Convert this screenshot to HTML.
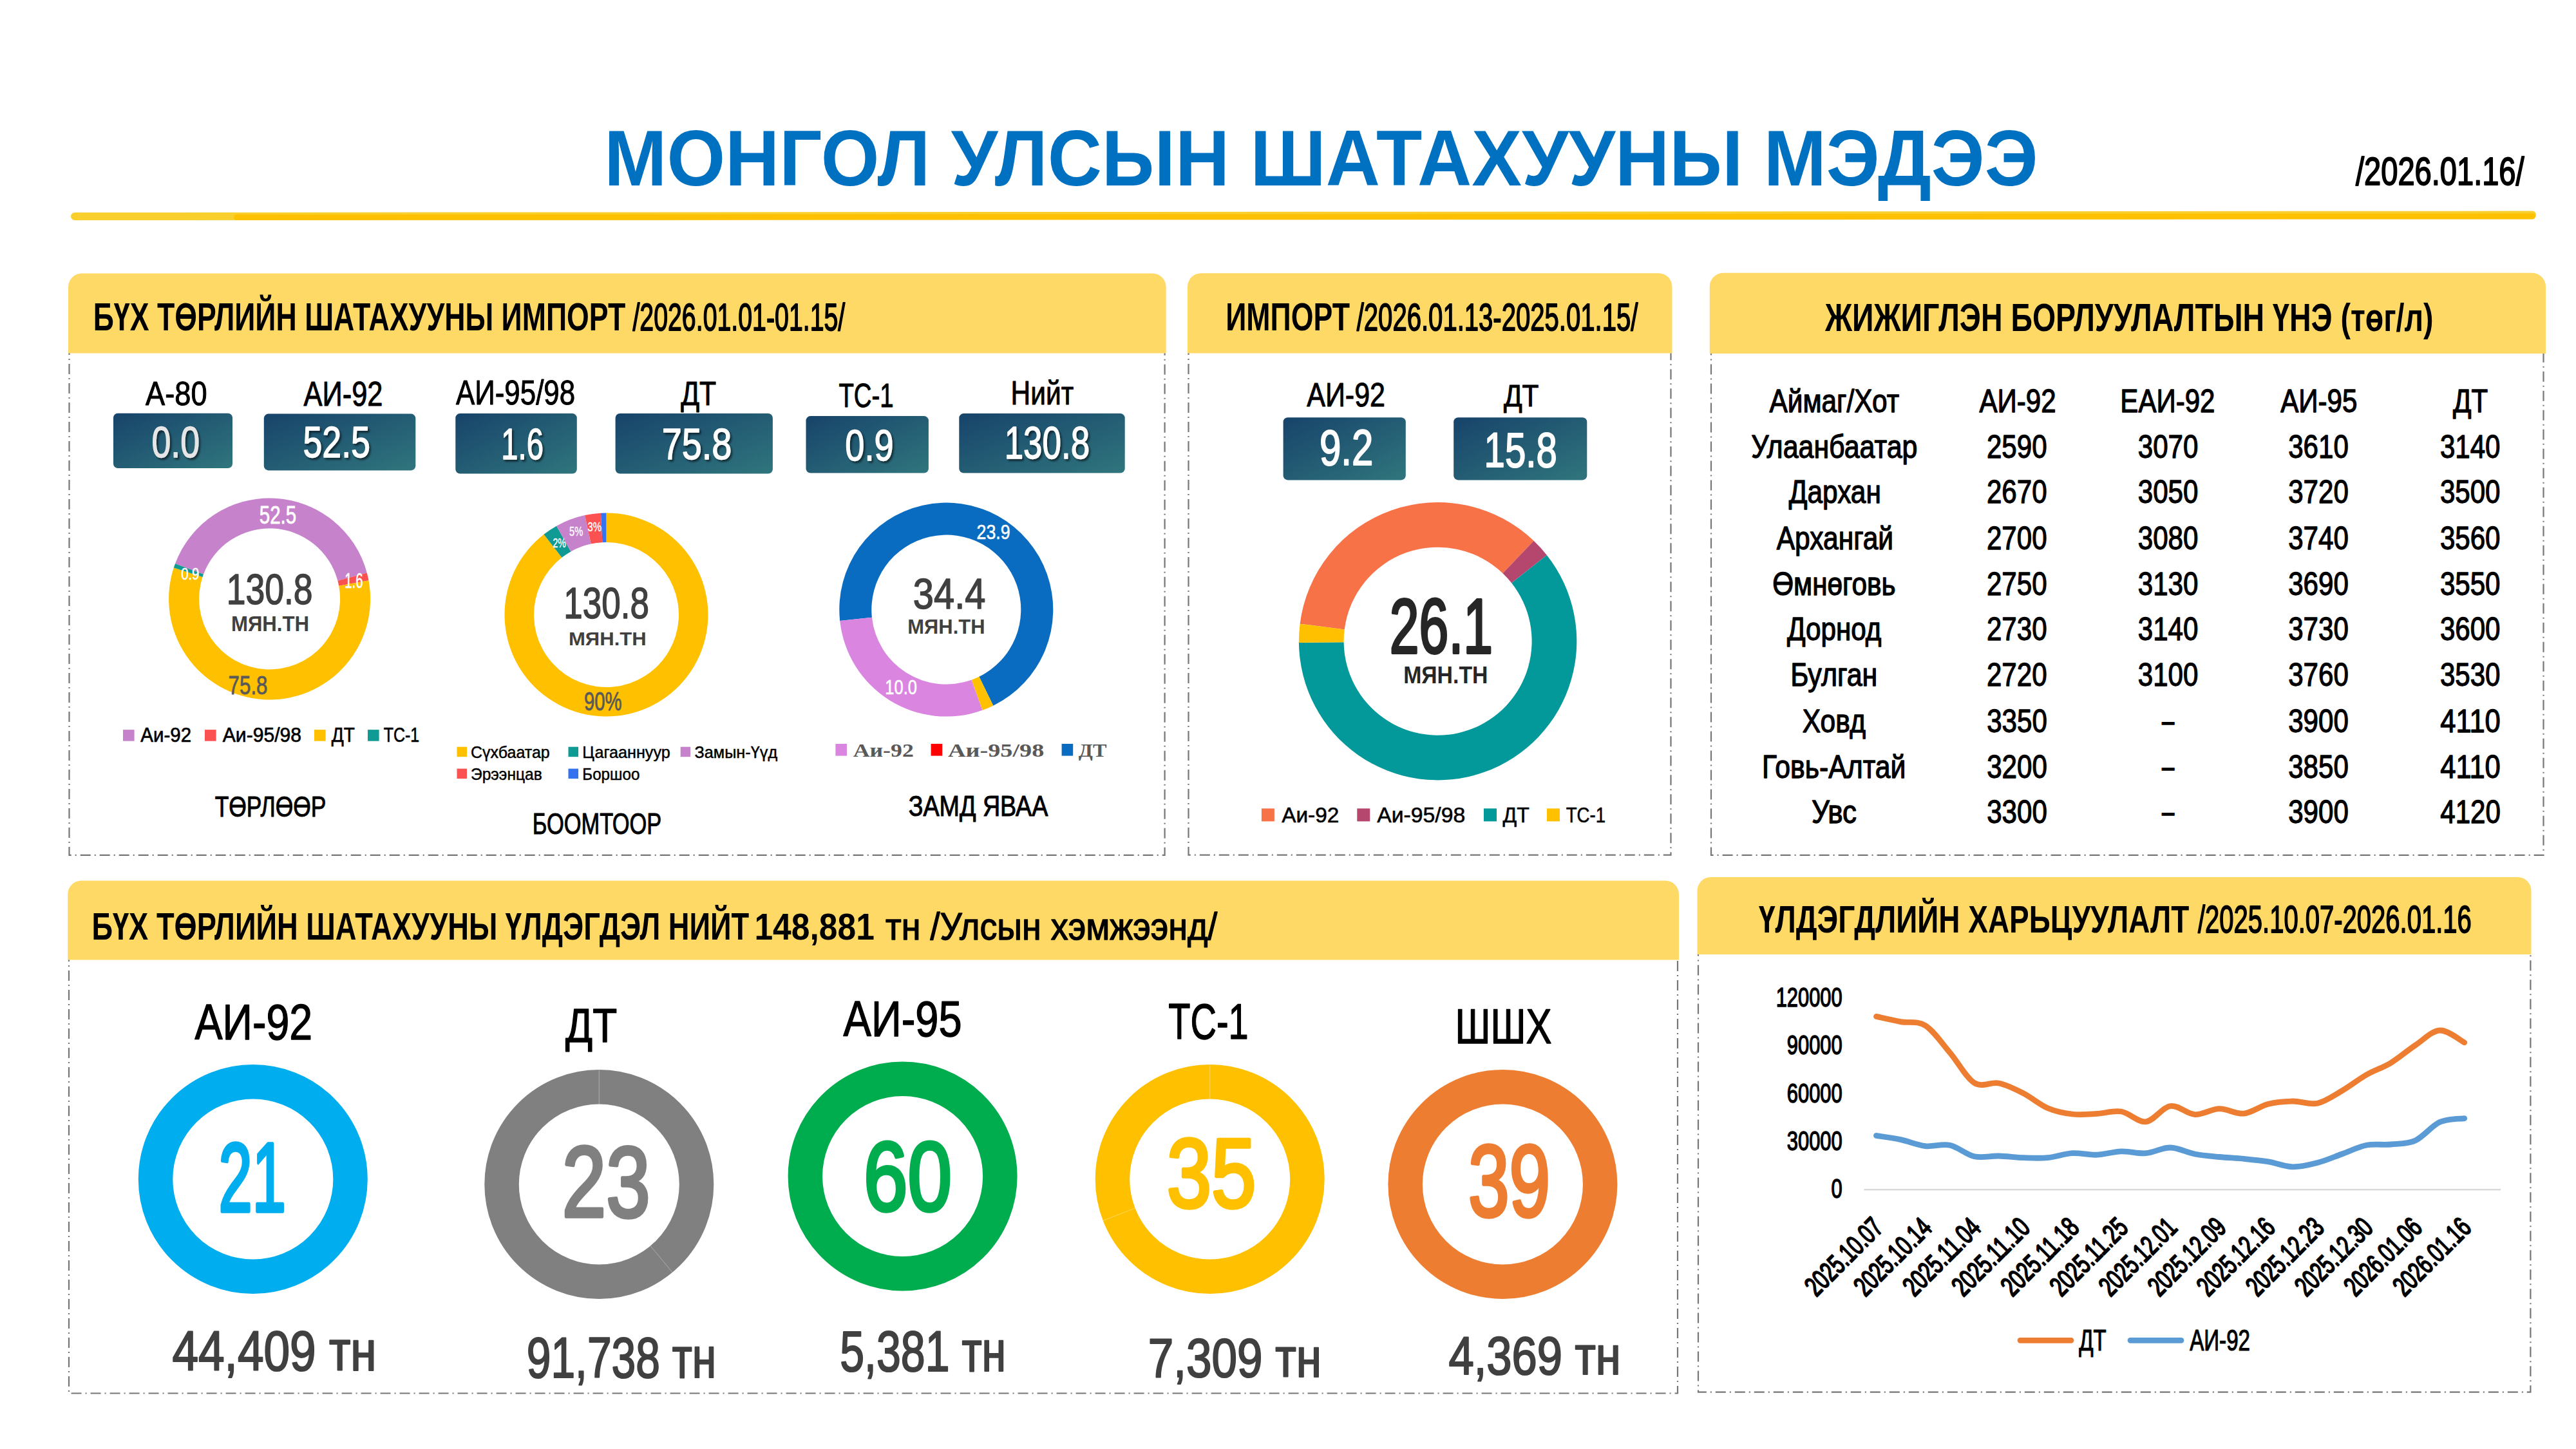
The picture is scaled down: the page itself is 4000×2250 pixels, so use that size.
<!DOCTYPE html>
<html><head><meta charset="utf-8"><title>Монгол улсын шатахууны мэдээ</title>
<style>html,body{margin:0;padding:0;background:#fff;width:4000px;height:2250px;overflow:hidden}svg{display:block;font-family:"Liberation Sans",sans-serif}</style>
</head><body>
<svg width="4000" height="2250" viewBox="0 0 4000 2250">
<defs><linearGradient id="yl" x1="0" y1="0" x2="0" y2="1"><stop offset="0" stop-color="#F8D43C"/><stop offset="0.35" stop-color="#FCC712"/><stop offset="1" stop-color="#FFC000"/></linearGradient>
<linearGradient id="bx" x1="0" y1="0" x2="1" y2="1"><stop offset="0" stop-color="#17436A"/><stop offset="1" stop-color="#30767D"/></linearGradient>
<filter id="sh" x="-20%" y="-20%" width="140%" height="140%"><feDropShadow dx="2.5" dy="3" stdDeviation="1.8" flood-color="#000" flood-opacity="0.55"/></filter></defs>
<rect width="4000" height="2250" fill="#FFFFFF"/>
<text x="938.29" y="288" font-family='"Liberation Sans", sans-serif' font-weight="bold" font-size="122.09" fill="#0070C0" textLength="2226.44" lengthAdjust="spacingAndGlyphs">МОНГОЛ УЛСЫН ШАТАХУУНЫ МЭДЭЭ</text>
<text x="3658" y="286.7" font-family='"Liberation Sans", sans-serif' font-weight="normal" font-size="60.6" fill="#000" textLength="261.6" lengthAdjust="spacingAndGlyphs" stroke="#000" stroke-width="2" stroke-linejoin="round">/2026.01.16/</text>
<path d="M116 336 L3932 333.6" stroke="#F8CF2C" stroke-width="12" stroke-linecap="round" fill="none"/>
<path d="M367.5 337.5 L3932.5 336" stroke="#FFC000" stroke-width="8.8" stroke-linecap="round" fill="none"/>
<path d="M106 548.5 V445.5 A21 21 0 0 1 127 424.5 H1789.6 A21 21 0 0 1 1810.6 445.5 V548.5 Z" fill="#FFD966"/>
<path d="M107.5 548.5 V1327.8 H1808.6 V548.5" fill="none" stroke="#767676" stroke-width="2.2" stroke-dasharray="16 6 2 6" stroke-dashoffset="13.5"/>
<path d="M1844 548.4 V445.2 A21 21 0 0 1 1865 424.2 H2575.5 A21 21 0 0 1 2596.5 445.2 V548.4 Z" fill="#FFD966"/>
<path d="M1845.5 548.4 V1327.6 H2594.5 V548.4" fill="none" stroke="#767676" stroke-width="2.2" stroke-dasharray="16 6 2 6" stroke-dashoffset="13.5"/>
<path d="M2654.8 548.9 V444.8 A21 21 0 0 1 2675.8 423.8 H3932 A21 21 0 0 1 3953 444.8 V548.9 Z" fill="#FFD966"/>
<path d="M2657 548.9 V1327.8 H3949.5 V548.9" fill="none" stroke="#767676" stroke-width="2.2" stroke-dasharray="16 6 2 6" stroke-dashoffset="13.5"/>
<path d="M105.2 1490.6 V1388.5 A21 21 0 0 1 126.2 1367.5 H2586 A21 21 0 0 1 2607 1388.5 V1490.6 Z" fill="#FFD966"/>
<path d="M107 1490.6 V2163.5 H2605 V1490.6" fill="none" stroke="#767676" stroke-width="2.2" stroke-dasharray="16 6 2 6" stroke-dashoffset="13.5"/>
<path d="M2635.5 1482 V1383 A21 21 0 0 1 2656.5 1362 H3909.5 A21 21 0 0 1 3930.5 1383 V1482 Z" fill="#FFD966"/>
<path d="M2637 1482 V2161.7 H3929.4 V1482" fill="none" stroke="#767676" stroke-width="2.2" stroke-dasharray="16 6 2 6" stroke-dashoffset="13.5"/>
<text x="144.74" y="512.9" font-family='"Liberation Sans", sans-serif' font-weight="bold" font-size="60.9" fill="#000" textLength="826.53" lengthAdjust="spacingAndGlyphs">БҮХ ТӨРЛИЙН ШАТАХУУНЫ ИМПОРТ</text>
<text x="982.4" y="512.9" font-family='"Liberation Sans", sans-serif' font-weight="normal" font-size="60.03" fill="#000" textLength="329.9" lengthAdjust="spacingAndGlyphs" stroke="#000" stroke-width="1.8" stroke-linejoin="round">/2026.01.01-01.15/</text>
<text x="1903.14" y="513.4" font-family='"Liberation Sans", sans-serif' font-weight="bold" font-size="60.17" fill="#000" textLength="192.84" lengthAdjust="spacingAndGlyphs">ИМПОРТ</text>
<text x="2106.7" y="513.4" font-family='"Liberation Sans", sans-serif' font-weight="normal" font-size="59.31" fill="#000" textLength="436.7" lengthAdjust="spacingAndGlyphs" stroke="#000" stroke-width="1.8" stroke-linejoin="round">/2026.01.13-2025.01.15/</text>
<text x="2833.94" y="513.5" font-family='"Liberation Sans", sans-serif' font-weight="bold" font-size="61.34" fill="#000" textLength="944.67" lengthAdjust="spacingAndGlyphs">ЖИЖИГЛЭН БОРЛУУЛАЛТЫН ҮНЭ (төг/л)</text>
<text x="142.4" y="1458.8" font-family='"Liberation Sans", sans-serif' font-weight="bold" font-size="58.72" fill="#000" textLength="1020.88" lengthAdjust="spacingAndGlyphs">БҮХ ТӨРЛИЙН ШАТАХУУНЫ ҮЛДЭГДЭЛ НИЙТ</text>
<text x="1171.45" y="1458.8" font-family='"Liberation Sans", sans-serif' font-weight="bold" font-size="57.88" fill="#000" textLength="186.38" lengthAdjust="spacingAndGlyphs">148,881</text>
<text x="1375.09" y="1458.8" font-family='"Liberation Sans", sans-serif' font-weight="normal" font-size="58.72" fill="#000" textLength="515.21" lengthAdjust="spacingAndGlyphs" stroke="#000" stroke-width="1.4" stroke-linejoin="round">тн /Улсын хэмжээнд/</text>
<text x="2730.9" y="1448.2" font-family='"Liberation Sans", sans-serif' font-weight="bold" font-size="59.88" fill="#000" textLength="668.39" lengthAdjust="spacingAndGlyphs">ҮЛДЭГДЛИЙН ХАРЬЦУУЛАЛТ</text>
<text x="3412.9" y="1448.2" font-family='"Liberation Sans", sans-serif' font-weight="normal" font-size="59.03" fill="#000" textLength="424.96" lengthAdjust="spacingAndGlyphs" stroke="#000" stroke-width="1.8" stroke-linejoin="round">/2025.10.07-2026.01.16</text>
<text x="226.11" y="628.5" font-family='"Liberation Sans", sans-serif' font-weight="normal" font-size="51.31" fill="#000" textLength="95.45" lengthAdjust="spacingAndGlyphs" stroke="#000" stroke-width="1" stroke-linejoin="round">А-80</text>
<rect x="176" y="641.8" width="185" height="85.2" rx="7" fill="url(#bx)"/>
<text x="235.4" y="710.2" font-family='"Liberation Sans", sans-serif' font-weight="normal" font-size="69.05" fill="#E6E6E6" textLength="74.59" lengthAdjust="spacingAndGlyphs" stroke="#E6E6E6" stroke-width="1.4" stroke-linejoin="round" filter="url(#sh)">0.0</text>
<text x="471.62" y="630.4" font-family='"Liberation Sans", sans-serif' font-weight="normal" font-size="52.91" fill="#000" textLength="122.87" lengthAdjust="spacingAndGlyphs" stroke="#000" stroke-width="1" stroke-linejoin="round">АИ-92</text>
<rect x="409.8" y="642.6" width="235.5" height="87.8" rx="7" fill="url(#bx)"/>
<text x="470.45" y="709.8" font-family='"Liberation Sans", sans-serif' font-weight="normal" font-size="68.19" fill="#FFFFFF" textLength="104.5" lengthAdjust="spacingAndGlyphs" stroke="#FFFFFF" stroke-width="1.4" stroke-linejoin="round" filter="url(#sh)">52.5</text>
<text x="708.01" y="627.7" font-family='"Liberation Sans", sans-serif' font-weight="normal" font-size="53.49" fill="#000" textLength="185.09" lengthAdjust="spacingAndGlyphs" stroke="#000" stroke-width="1" stroke-linejoin="round">АИ-95/98</text>
<rect x="707.3" y="642.1" width="188.5" height="93.4" rx="7" fill="url(#bx)"/>
<text x="778.31" y="713.3" font-family='"Liberation Sans", sans-serif' font-weight="normal" font-size="69.2" fill="#FFFFFF" textLength="65.57" lengthAdjust="spacingAndGlyphs" stroke="#FFFFFF" stroke-width="1.4" stroke-linejoin="round" filter="url(#sh)">1.6</text>
<text x="1057.19" y="628.6" font-family='"Liberation Sans", sans-serif' font-weight="normal" font-size="51.89" fill="#000" textLength="54.99" lengthAdjust="spacingAndGlyphs" stroke="#000" stroke-width="1" stroke-linejoin="round">ДТ</text>
<rect x="955.6" y="642" width="244.3" height="93.5" rx="7" fill="url(#bx)"/>
<text x="1027.63" y="713.4" font-family='"Liberation Sans", sans-serif' font-weight="normal" font-size="68.91" fill="#FFFFFF" textLength="108.8" lengthAdjust="spacingAndGlyphs" stroke="#FFFFFF" stroke-width="1.4" stroke-linejoin="round" filter="url(#sh)">75.8</text>
<text x="1302.44" y="631.8" font-family='"Liberation Sans", sans-serif' font-weight="normal" font-size="52.03" fill="#000" textLength="85.23" lengthAdjust="spacingAndGlyphs" stroke="#000" stroke-width="1" stroke-linejoin="round">ТС-1</text>
<rect x="1251.5" y="646.1" width="190.4" height="88.5" rx="7" fill="url(#bx)"/>
<text x="1312.28" y="715.3" font-family='"Liberation Sans", sans-serif' font-weight="normal" font-size="69.05" fill="#FFFFFF" textLength="75.28" lengthAdjust="spacingAndGlyphs" stroke="#FFFFFF" stroke-width="1.4" stroke-linejoin="round" filter="url(#sh)">0.9</text>
<text x="1569.61" y="628.3" font-family='"Liberation Sans", sans-serif' font-weight="normal" font-size="52.47" fill="#000" textLength="97.61" lengthAdjust="spacingAndGlyphs" stroke="#000" stroke-width="1" stroke-linejoin="round">Нийт</text>
<rect x="1489.3" y="642.1" width="257.4" height="92.5" rx="7" fill="url(#bx)"/>
<text x="1559.67" y="711.8" font-family='"Liberation Sans", sans-serif' font-weight="normal" font-size="69.63" fill="#FFFFFF" textLength="132.43" lengthAdjust="spacingAndGlyphs" stroke="#FFFFFF" stroke-width="1.4" stroke-linejoin="round" filter="url(#sh)">130.8</text>
<text x="2029.22" y="631.4" font-family='"Liberation Sans", sans-serif' font-weight="normal" font-size="51.89" fill="#000" textLength="121.75" lengthAdjust="spacingAndGlyphs" stroke="#000" stroke-width="1" stroke-linejoin="round">АИ-92</text>
<rect x="1992.6" y="648.2" width="190.2" height="97.2" rx="7" fill="url(#bx)"/>
<text x="2048.99" y="722.2" font-family='"Liberation Sans", sans-serif' font-weight="normal" font-size="77.08" fill="#FFFFFF" textLength="83.43" lengthAdjust="spacingAndGlyphs" stroke="#FFFFFF" stroke-width="2" stroke-linejoin="round">9.2</text>
<text x="2334.89" y="631.4" font-family='"Liberation Sans", sans-serif' font-weight="normal" font-size="47.38" fill="#000" textLength="54.58" lengthAdjust="spacingAndGlyphs" stroke="#000" stroke-width="1" stroke-linejoin="round">ДТ</text>
<rect x="2257.2" y="648.2" width="207.1" height="97.2" rx="7" fill="url(#bx)"/>
<text x="2304.57" y="725" font-family='"Liberation Sans", sans-serif' font-weight="normal" font-size="76.5" fill="#FFFFFF" textLength="113.26" lengthAdjust="spacingAndGlyphs" stroke="#FFFFFF" stroke-width="2" stroke-linejoin="round">15.8</text>
<path d="M272.01 875.19 A156.5 156.5 0 0 1 569.76 889.48 L524.37 901.65 A109.5 109.5 0 0 0 316.03 891.65 Z" fill="#C683CC"/>
<path d="M569.76 889.48 A156.5 156.5 0 0 1 572.43 901.21 L526.23 909.86 A109.5 109.5 0 0 0 524.37 901.65 Z" fill="#FB5151"/>
<path d="M572.43 901.21 A156.5 156.5 0 1 1 269.78 881.58 L314.47 896.12 A109.5 109.5 0 1 0 526.23 909.86 Z" fill="#FFC000"/>
<path d="M269.78 881.58 A156.5 156.5 0 0 1 272.01 875.19 L316.03 891.65 A109.5 109.5 0 0 0 314.47 896.12 Z" fill="#0F9A94"/>
<text x="402.82" y="812.6" font-family='"Liberation Sans", sans-serif' font-weight="normal" font-size="39.54" fill="#FFFFFF" textLength="57.42" lengthAdjust="spacingAndGlyphs" stroke="#FFFFFF" stroke-width="0.8" stroke-linejoin="round">52.5</text>
<text x="535.25" y="912.5" font-family='"Liberation Sans", sans-serif' font-weight="normal" font-size="32.66" fill="#FFFFFF" textLength="28.35" lengthAdjust="spacingAndGlyphs" stroke="#FFFFFF" stroke-width="0.6" stroke-linejoin="round">1.6</text>
<text x="281.16" y="900" font-family='"Liberation Sans", sans-serif' font-weight="normal" font-size="25.79" fill="#FFFFFF" textLength="28.26" lengthAdjust="spacingAndGlyphs" stroke="#FFFFFF" stroke-width="0.5" stroke-linejoin="round">0.9</text>
<text x="354.59" y="1078.4" font-family='"Liberation Sans", sans-serif' font-weight="normal" font-size="40.69" fill="#595959" textLength="60.97" lengthAdjust="spacingAndGlyphs" stroke="#595959" stroke-width="0.8" stroke-linejoin="round">75.8</text>
<text x="351.67" y="938" font-family='"Liberation Sans", sans-serif' font-weight="normal" font-size="65.9" fill="#404040" textLength="133.9" lengthAdjust="spacingAndGlyphs" stroke="#404040" stroke-width="1.5" stroke-linejoin="round">130.8</text>
<text x="358.91" y="980" font-family='"Liberation Sans", sans-serif' font-weight="bold" font-size="33.43" fill="#404040" textLength="121.19" lengthAdjust="spacingAndGlyphs">МЯН.ТН</text>
<rect x="191" y="1133.1" width="17.6" height="17.6" rx="0" fill="#C683CC"/>
<text x="218.29" y="1152.3" font-family='"Liberation Sans", sans-serif' font-weight="normal" font-size="31.98" fill="#000" textLength="78.84" lengthAdjust="spacingAndGlyphs" stroke="#000" stroke-width="0.7" stroke-linejoin="round">Аи-92</text>
<rect x="318" y="1133.1" width="17.6" height="17.6" rx="0" fill="#FB5151"/>
<text x="345.79" y="1152.3" font-family='"Liberation Sans", sans-serif' font-weight="normal" font-size="31.98" fill="#000" textLength="122.17" lengthAdjust="spacingAndGlyphs" stroke="#000" stroke-width="0.7" stroke-linejoin="round">Аи-95/98</text>
<rect x="488" y="1133.1" width="17.6" height="17.6" rx="0" fill="#FFC000"/>
<text x="514.64" y="1152.3" font-family='"Liberation Sans", sans-serif' font-weight="normal" font-size="31.98" fill="#000" textLength="36.15" lengthAdjust="spacingAndGlyphs" stroke="#000" stroke-width="0.7" stroke-linejoin="round">ДТ</text>
<rect x="571" y="1133.1" width="17.6" height="17.6" rx="0" fill="#0F9A94"/>
<text x="595.79" y="1152.3" font-family='"Liberation Sans", sans-serif' font-weight="normal" font-size="31.98" fill="#000" textLength="55.38" lengthAdjust="spacingAndGlyphs" stroke="#000" stroke-width="0.7" stroke-linejoin="round">ТС-1</text>
<text x="333.71" y="1268" font-family='"Liberation Sans", sans-serif' font-weight="normal" font-size="43.6" fill="#000" textLength="172.63" lengthAdjust="spacingAndGlyphs" stroke="#000" stroke-width="1" stroke-linejoin="round">ТӨРЛӨӨР</text>
<path d="M941.5 796.5 A158 158 0 1 1 844.44 829.82 L872.39 865.73 A112.5 112.5 0 1 0 941.5 842 Z" fill="#FFC000"/>
<path d="M844.44 829.82 A158 158 0 0 1 864.18 816.71 L886.44 856.39 A112.5 112.5 0 0 0 872.39 865.73 Z" fill="#0F9A94"/>
<path d="M864.18 816.71 A158 158 0 0 1 908.11 800.07 L917.73 844.54 A112.5 112.5 0 0 0 886.44 856.39 Z" fill="#C683CC"/>
<path d="M908.11 800.07 A158 158 0 0 1 932.96 796.73 L935.42 842.16 A112.5 112.5 0 0 0 917.73 844.54 Z" fill="#FB5151"/>
<path d="M932.96 796.73 A158 158 0 0 1 941.5 796.5 L941.5 842 A112.5 112.5 0 0 0 935.42 842.16 Z" fill="#3373F0"/>
<text x="858.49" y="850.3" font-family='"Liberation Sans", sans-serif' font-weight="normal" font-size="20.92" fill="#FFFFFF" textLength="20.41" lengthAdjust="spacingAndGlyphs" stroke="#FFFFFF" stroke-width="0.4" stroke-linejoin="round">2%</text>
<text x="884.11" y="831.8" font-family='"Liberation Sans", sans-serif' font-weight="normal" font-size="20.34" fill="#FFFFFF" textLength="21.21" lengthAdjust="spacingAndGlyphs" stroke="#FFFFFF" stroke-width="0.4" stroke-linejoin="round">5%</text>
<text x="912.43" y="824.7" font-family='"Liberation Sans", sans-serif' font-weight="normal" font-size="19.63" fill="#FFFFFF" textLength="21.5" lengthAdjust="spacingAndGlyphs" stroke="#FFFFFF" stroke-width="0.4" stroke-linejoin="round">3%</text>
<text x="907.03" y="1103.1" font-family='"Liberation Sans", sans-serif' font-weight="normal" font-size="41.12" fill="#595959" textLength="58.62" lengthAdjust="spacingAndGlyphs" stroke="#595959" stroke-width="0.8" stroke-linejoin="round">90%</text>
<text x="875.31" y="960.4" font-family='"Liberation Sans", sans-serif' font-weight="normal" font-size="67.91" fill="#404040" textLength="132.64" lengthAdjust="spacingAndGlyphs" stroke="#404040" stroke-width="1.5" stroke-linejoin="round">130.8</text>
<text x="882.92" y="1001.7" font-family='"Liberation Sans", sans-serif' font-weight="bold" font-size="30.09" fill="#404040" textLength="120.88" lengthAdjust="spacingAndGlyphs">МЯН.ТН</text>
<rect x="709.5" y="1159.7" width="15.5" height="15.5" rx="0" fill="#FFC000"/>
<text x="731" y="1177" font-family='"Liberation Sans", sans-serif' font-weight="normal" font-size="25.87" fill="#000" textLength="122.79" lengthAdjust="spacingAndGlyphs" stroke="#000" stroke-width="0.5" stroke-linejoin="round">Сүхбаатар</text>
<rect x="882.5" y="1159.7" width="15.5" height="15.5" rx="0" fill="#0F9A94"/>
<text x="904.19" y="1177" font-family='"Liberation Sans", sans-serif' font-weight="normal" font-size="25.87" fill="#000" textLength="136.62" lengthAdjust="spacingAndGlyphs" stroke="#000" stroke-width="0.5" stroke-linejoin="round">Цагааннуур</text>
<rect x="1056.7" y="1159.7" width="15.5" height="15.5" rx="0" fill="#C683CC"/>
<text x="1078.42" y="1177" font-family='"Liberation Sans", sans-serif' font-weight="normal" font-size="25.87" fill="#000" textLength="128.76" lengthAdjust="spacingAndGlyphs" stroke="#000" stroke-width="0.5" stroke-linejoin="round">Замын-Үүд</text>
<rect x="709.5" y="1193.6" width="15.5" height="15.5" rx="0" fill="#FB5151"/>
<text x="730.99" y="1210.9" font-family='"Liberation Sans", sans-serif' font-weight="normal" font-size="25.87" fill="#000" textLength="110.83" lengthAdjust="spacingAndGlyphs" stroke="#000" stroke-width="0.5" stroke-linejoin="round">Эрээнцав</text>
<rect x="882.5" y="1193.6" width="15.5" height="15.5" rx="0" fill="#3373F0"/>
<text x="904.27" y="1210.9" font-family='"Liberation Sans", sans-serif' font-weight="normal" font-size="25.87" fill="#000" textLength="89.1" lengthAdjust="spacingAndGlyphs" stroke="#000" stroke-width="0.5" stroke-linejoin="round">Боршоо</text>
<text x="826.7" y="1294.6" font-family='"Liberation Sans", sans-serif' font-weight="normal" font-size="45.93" fill="#000" textLength="200.6" lengthAdjust="spacingAndGlyphs" stroke="#000" stroke-width="1" stroke-linejoin="round">БООМТООР</text>
<path d="M1304.21 963.95 A166 166 0 1 1 1542.33 1095.67 L1520.33 1050.77 A116 116 0 1 0 1353.94 958.73 Z" fill="#0A6CC0"/>
<path d="M1542.33 1095.67 A166 166 0 0 1 1525.53 1102.79 L1508.59 1055.74 A116 116 0 0 0 1520.33 1050.77 Z" fill="#FFC000"/>
<path d="M1525.53 1102.79 A166 166 0 0 1 1304.21 963.95 L1353.94 958.73 A116 116 0 0 0 1508.59 1055.74 Z" fill="#DA86E0"/>
<text x="1516.56" y="836.5" font-family='"Liberation Sans", sans-serif' font-weight="normal" font-size="30.8" fill="#FFFFFF" textLength="52.01" lengthAdjust="spacingAndGlyphs" stroke="#FFFFFF" stroke-width="0.6" stroke-linejoin="round">23.9</text>
<text x="1374.36" y="1078.4" font-family='"Liberation Sans", sans-serif' font-weight="normal" font-size="30.95" fill="#FFFFFF" textLength="49.53" lengthAdjust="spacingAndGlyphs" stroke="#FFFFFF" stroke-width="0.6" stroke-linejoin="round">10.0</text>
<text x="1417.85" y="944.7" font-family='"Liberation Sans", sans-serif' font-weight="normal" font-size="65.9" fill="#404040" textLength="112.49" lengthAdjust="spacingAndGlyphs" stroke="#404040" stroke-width="1.5" stroke-linejoin="round">34.4</text>
<text x="1409.33" y="984" font-family='"Liberation Sans", sans-serif' font-weight="bold" font-size="31.4" fill="#404040" textLength="120.15" lengthAdjust="spacingAndGlyphs">МЯН.ТН</text>
<rect x="1297.4" y="1155" width="17.6" height="18.6" rx="0" fill="#DA86E0"/>
<text x="1324.65" y="1174.8" font-family='"Liberation Serif", serif' font-weight="bold" font-size="30.23" fill="#595959" textLength="94.19" lengthAdjust="spacingAndGlyphs">Аи-92</text>
<rect x="1445.6" y="1155" width="17.6" height="18.6" rx="0" fill="#FF0000"/>
<text x="1472.03" y="1174.8" font-family='"Liberation Serif", serif' font-weight="bold" font-size="30.23" fill="#595959" textLength="149.24" lengthAdjust="spacingAndGlyphs">Аи-95/98</text>
<rect x="1648.6" y="1155" width="17.6" height="18.6" rx="0" fill="#0A6CC0"/>
<text x="1674.81" y="1174.8" font-family='"Liberation Serif", serif' font-weight="bold" font-size="30.23" fill="#595959" textLength="43.68" lengthAdjust="spacingAndGlyphs">ДТ</text>
<text x="1410.67" y="1267" font-family='"Liberation Sans", sans-serif' font-weight="normal" font-size="43.6" fill="#000" textLength="216.6" lengthAdjust="spacingAndGlyphs" stroke="#000" stroke-width="1" stroke-linejoin="round">ЗАМД ЯВАА</text>
<path d="M2018.6 968.67 A215.7 215.7 0 0 1 2381.62 839.76 L2333.47 890.15 A146 146 0 0 0 2087.75 977.4 Z" fill="#F87247"/>
<path d="M2381.62 839.76 A215.7 215.7 0 0 1 2401.88 862.01 L2347.18 905.21 A146 146 0 0 0 2333.47 890.15 Z" fill="#B5476F"/>
<path d="M2401.88 862.01 A215.7 215.7 0 1 1 2016.91 997.96 L2086.61 997.23 A146 146 0 1 0 2347.18 905.21 Z" fill="#03989A"/>
<path d="M2016.91 997.96 A215.7 215.7 0 0 1 2018.6 968.67 L2087.75 977.4 A146 146 0 0 0 2086.61 997.23 Z" fill="#FFC000"/>
<text x="2157.86" y="1014" font-family='"Liberation Sans", sans-serif' font-weight="normal" font-size="120.34" fill="#262626" textLength="160.16" lengthAdjust="spacingAndGlyphs" stroke="#262626" stroke-width="4" stroke-linejoin="round">26.1</text>
<text x="2179.14" y="1061" font-family='"Liberation Sans", sans-serif' font-weight="bold" font-size="36.34" fill="#262626" textLength="131.34" lengthAdjust="spacingAndGlyphs">МЯН.ТН</text>
<rect x="1958.9" y="1255.4" width="20" height="20" rx="0" fill="#F87247"/>
<text x="1990.23" y="1276.5" font-family='"Liberation Sans", sans-serif' font-weight="normal" font-size="32.7" fill="#000" textLength="89.14" lengthAdjust="spacingAndGlyphs" stroke="#000" stroke-width="0.6" stroke-linejoin="round">Аи-92</text>
<rect x="2107.3" y="1255.4" width="20" height="20" rx="0" fill="#B5476F"/>
<text x="2138.23" y="1276.5" font-family='"Liberation Sans", sans-serif' font-weight="normal" font-size="32.7" fill="#000" textLength="136.93" lengthAdjust="spacingAndGlyphs" stroke="#000" stroke-width="0.6" stroke-linejoin="round">Аи-95/98</text>
<rect x="2304" y="1255.4" width="20" height="20" rx="0" fill="#03989A"/>
<text x="2333.47" y="1276.5" font-family='"Liberation Sans", sans-serif' font-weight="normal" font-size="32.7" fill="#000" textLength="41.27" lengthAdjust="spacingAndGlyphs" stroke="#000" stroke-width="0.6" stroke-linejoin="round">ДТ</text>
<rect x="2402" y="1255.4" width="20" height="20" rx="0" fill="#FFC000"/>
<text x="2431.68" y="1276.5" font-family='"Liberation Sans", sans-serif' font-weight="normal" font-size="32.7" fill="#000" textLength="61.37" lengthAdjust="spacingAndGlyphs" stroke="#000" stroke-width="0.6" stroke-linejoin="round">ТС-1</text>
<text x="2747.49" y="640.2" font-family='"Liberation Sans", sans-serif' font-weight="normal" font-size="49.5" fill="#000" textLength="201.66" lengthAdjust="spacingAndGlyphs" stroke="#000" stroke-width="1.3" stroke-linejoin="round">Аймаг/Хот</text>
<text x="3073.46" y="640.2" font-family='"Liberation Sans", sans-serif' font-weight="normal" font-size="49.5" fill="#000" textLength="119.12" lengthAdjust="spacingAndGlyphs" stroke="#000" stroke-width="1.3" stroke-linejoin="round">АИ-92</text>
<text x="3292.34" y="640.2" font-family='"Liberation Sans", sans-serif' font-weight="normal" font-size="49.5" fill="#000" textLength="147.18" lengthAdjust="spacingAndGlyphs" stroke="#000" stroke-width="1.3" stroke-linejoin="round">ЕАИ-92</text>
<text x="3541.28" y="640.2" font-family='"Liberation Sans", sans-serif' font-weight="normal" font-size="49.5" fill="#000" textLength="119.12" lengthAdjust="spacingAndGlyphs" stroke="#000" stroke-width="1.3" stroke-linejoin="round">АИ-95</text>
<text x="3808.93" y="640.2" font-family='"Liberation Sans", sans-serif' font-weight="normal" font-size="49.5" fill="#000" textLength="54.2" lengthAdjust="spacingAndGlyphs" stroke="#000" stroke-width="1.3" stroke-linejoin="round">ДТ</text>
<text x="2719.18" y="710.5" font-family='"Liberation Sans", sans-serif' font-weight="normal" font-size="49.5" fill="#000" textLength="258.28" lengthAdjust="spacingAndGlyphs" stroke="#000" stroke-width="1.3" stroke-linejoin="round">Улаанбаатар</text>
<text x="3084.96" y="710.5" font-family='"Liberation Sans", sans-serif' font-weight="normal" font-size="49.5" fill="#000" textLength="93.6" lengthAdjust="spacingAndGlyphs" stroke="#000" stroke-width="1.3" stroke-linejoin="round">2590</text>
<text x="3319.82" y="710.5" font-family='"Liberation Sans", sans-serif' font-weight="normal" font-size="49.5" fill="#000" textLength="93.6" lengthAdjust="spacingAndGlyphs" stroke="#000" stroke-width="1.3" stroke-linejoin="round">3070</text>
<text x="3553.22" y="710.5" font-family='"Liberation Sans", sans-serif' font-weight="normal" font-size="49.5" fill="#000" textLength="93.6" lengthAdjust="spacingAndGlyphs" stroke="#000" stroke-width="1.3" stroke-linejoin="round">3610</text>
<text x="3788.92" y="710.5" font-family='"Liberation Sans", sans-serif' font-weight="normal" font-size="49.5" fill="#000" textLength="93.6" lengthAdjust="spacingAndGlyphs" stroke="#000" stroke-width="1.3" stroke-linejoin="round">3140</text>
<text x="2777.82" y="781.2" font-family='"Liberation Sans", sans-serif' font-weight="normal" font-size="49.5" fill="#000" textLength="142.97" lengthAdjust="spacingAndGlyphs" stroke="#000" stroke-width="1.3" stroke-linejoin="round">Дархан</text>
<text x="3084.96" y="781.2" font-family='"Liberation Sans", sans-serif' font-weight="normal" font-size="49.5" fill="#000" textLength="93.6" lengthAdjust="spacingAndGlyphs" stroke="#000" stroke-width="1.3" stroke-linejoin="round">2670</text>
<text x="3319.82" y="781.2" font-family='"Liberation Sans", sans-serif' font-weight="normal" font-size="49.5" fill="#000" textLength="93.6" lengthAdjust="spacingAndGlyphs" stroke="#000" stroke-width="1.3" stroke-linejoin="round">3050</text>
<text x="3553.22" y="781.2" font-family='"Liberation Sans", sans-serif' font-weight="normal" font-size="49.5" fill="#000" textLength="93.6" lengthAdjust="spacingAndGlyphs" stroke="#000" stroke-width="1.3" stroke-linejoin="round">3720</text>
<text x="3788.92" y="781.2" font-family='"Liberation Sans", sans-serif' font-weight="normal" font-size="49.5" fill="#000" textLength="93.6" lengthAdjust="spacingAndGlyphs" stroke="#000" stroke-width="1.3" stroke-linejoin="round">3500</text>
<text x="2758.72" y="853" font-family='"Liberation Sans", sans-serif' font-weight="normal" font-size="49.5" fill="#000" textLength="181.39" lengthAdjust="spacingAndGlyphs" stroke="#000" stroke-width="1.3" stroke-linejoin="round">Архангай</text>
<text x="3084.96" y="853" font-family='"Liberation Sans", sans-serif' font-weight="normal" font-size="49.5" fill="#000" textLength="93.6" lengthAdjust="spacingAndGlyphs" stroke="#000" stroke-width="1.3" stroke-linejoin="round">2700</text>
<text x="3319.82" y="853" font-family='"Liberation Sans", sans-serif' font-weight="normal" font-size="49.5" fill="#000" textLength="93.6" lengthAdjust="spacingAndGlyphs" stroke="#000" stroke-width="1.3" stroke-linejoin="round">3080</text>
<text x="3553.22" y="853" font-family='"Liberation Sans", sans-serif' font-weight="normal" font-size="49.5" fill="#000" textLength="93.6" lengthAdjust="spacingAndGlyphs" stroke="#000" stroke-width="1.3" stroke-linejoin="round">3740</text>
<text x="3788.92" y="853" font-family='"Liberation Sans", sans-serif' font-weight="normal" font-size="49.5" fill="#000" textLength="93.6" lengthAdjust="spacingAndGlyphs" stroke="#000" stroke-width="1.3" stroke-linejoin="round">3560</text>
<text x="2752.21" y="924" font-family='"Liberation Sans", sans-serif' font-weight="normal" font-size="49.5" fill="#000" textLength="191.31" lengthAdjust="spacingAndGlyphs" stroke="#000" stroke-width="1.3" stroke-linejoin="round">Өмнөговь</text>
<text x="3084.96" y="924" font-family='"Liberation Sans", sans-serif' font-weight="normal" font-size="49.5" fill="#000" textLength="93.6" lengthAdjust="spacingAndGlyphs" stroke="#000" stroke-width="1.3" stroke-linejoin="round">2750</text>
<text x="3319.82" y="924" font-family='"Liberation Sans", sans-serif' font-weight="normal" font-size="49.5" fill="#000" textLength="93.6" lengthAdjust="spacingAndGlyphs" stroke="#000" stroke-width="1.3" stroke-linejoin="round">3130</text>
<text x="3553.22" y="924" font-family='"Liberation Sans", sans-serif' font-weight="normal" font-size="49.5" fill="#000" textLength="93.6" lengthAdjust="spacingAndGlyphs" stroke="#000" stroke-width="1.3" stroke-linejoin="round">3690</text>
<text x="3788.92" y="924" font-family='"Liberation Sans", sans-serif' font-weight="normal" font-size="49.5" fill="#000" textLength="93.6" lengthAdjust="spacingAndGlyphs" stroke="#000" stroke-width="1.3" stroke-linejoin="round">3550</text>
<text x="2774.96" y="994" font-family='"Liberation Sans", sans-serif' font-weight="normal" font-size="49.5" fill="#000" textLength="146.48" lengthAdjust="spacingAndGlyphs" stroke="#000" stroke-width="1.3" stroke-linejoin="round">Дорнод</text>
<text x="3084.96" y="994" font-family='"Liberation Sans", sans-serif' font-weight="normal" font-size="49.5" fill="#000" textLength="93.6" lengthAdjust="spacingAndGlyphs" stroke="#000" stroke-width="1.3" stroke-linejoin="round">2730</text>
<text x="3319.82" y="994" font-family='"Liberation Sans", sans-serif' font-weight="normal" font-size="49.5" fill="#000" textLength="93.6" lengthAdjust="spacingAndGlyphs" stroke="#000" stroke-width="1.3" stroke-linejoin="round">3140</text>
<text x="3553.22" y="994" font-family='"Liberation Sans", sans-serif' font-weight="normal" font-size="49.5" fill="#000" textLength="93.6" lengthAdjust="spacingAndGlyphs" stroke="#000" stroke-width="1.3" stroke-linejoin="round">3730</text>
<text x="3788.92" y="994" font-family='"Liberation Sans", sans-serif' font-weight="normal" font-size="49.5" fill="#000" textLength="93.6" lengthAdjust="spacingAndGlyphs" stroke="#000" stroke-width="1.3" stroke-linejoin="round">3600</text>
<text x="2780.14" y="1065.4" font-family='"Liberation Sans", sans-serif' font-weight="normal" font-size="49.5" fill="#000" textLength="135.18" lengthAdjust="spacingAndGlyphs" stroke="#000" stroke-width="1.3" stroke-linejoin="round">Булган</text>
<text x="3084.96" y="1065.4" font-family='"Liberation Sans", sans-serif' font-weight="normal" font-size="49.5" fill="#000" textLength="93.6" lengthAdjust="spacingAndGlyphs" stroke="#000" stroke-width="1.3" stroke-linejoin="round">2720</text>
<text x="3319.82" y="1065.4" font-family='"Liberation Sans", sans-serif' font-weight="normal" font-size="49.5" fill="#000" textLength="93.6" lengthAdjust="spacingAndGlyphs" stroke="#000" stroke-width="1.3" stroke-linejoin="round">3100</text>
<text x="3553.22" y="1065.4" font-family='"Liberation Sans", sans-serif' font-weight="normal" font-size="49.5" fill="#000" textLength="93.6" lengthAdjust="spacingAndGlyphs" stroke="#000" stroke-width="1.3" stroke-linejoin="round">3760</text>
<text x="3788.92" y="1065.4" font-family='"Liberation Sans", sans-serif' font-weight="normal" font-size="49.5" fill="#000" textLength="93.6" lengthAdjust="spacingAndGlyphs" stroke="#000" stroke-width="1.3" stroke-linejoin="round">3530</text>
<text x="2798.7" y="1136.7" font-family='"Liberation Sans", sans-serif' font-weight="normal" font-size="49.5" fill="#000" textLength="98.37" lengthAdjust="spacingAndGlyphs" stroke="#000" stroke-width="1.3" stroke-linejoin="round">Ховд</text>
<text x="3085.22" y="1136.7" font-family='"Liberation Sans", sans-serif' font-weight="normal" font-size="49.5" fill="#000" textLength="93.6" lengthAdjust="spacingAndGlyphs" stroke="#000" stroke-width="1.3" stroke-linejoin="round">3350</text>
<text x="3356.97" y="1135.7" font-family='"Liberation Sans", sans-serif' font-weight="normal" font-size="49.5" fill="#000" textLength="19.27" lengthAdjust="spacingAndGlyphs" stroke="#000" stroke-width="1.3" stroke-linejoin="round">–</text>
<text x="3553.22" y="1136.7" font-family='"Liberation Sans", sans-serif' font-weight="normal" font-size="49.5" fill="#000" textLength="93.6" lengthAdjust="spacingAndGlyphs" stroke="#000" stroke-width="1.3" stroke-linejoin="round">3900</text>
<text x="3789.24" y="1136.7" font-family='"Liberation Sans", sans-serif' font-weight="normal" font-size="49.5" fill="#000" textLength="93.6" lengthAdjust="spacingAndGlyphs" stroke="#000" stroke-width="1.3" stroke-linejoin="round">4110</text>
<text x="2736.1" y="1208" font-family='"Liberation Sans", sans-serif' font-weight="normal" font-size="49.5" fill="#000" textLength="223.26" lengthAdjust="spacingAndGlyphs" stroke="#000" stroke-width="1.3" stroke-linejoin="round">Говь-Алтай</text>
<text x="3085.22" y="1208" font-family='"Liberation Sans", sans-serif' font-weight="normal" font-size="49.5" fill="#000" textLength="93.6" lengthAdjust="spacingAndGlyphs" stroke="#000" stroke-width="1.3" stroke-linejoin="round">3200</text>
<text x="3356.97" y="1207" font-family='"Liberation Sans", sans-serif' font-weight="normal" font-size="49.5" fill="#000" textLength="19.27" lengthAdjust="spacingAndGlyphs" stroke="#000" stroke-width="1.3" stroke-linejoin="round">–</text>
<text x="3553.22" y="1208" font-family='"Liberation Sans", sans-serif' font-weight="normal" font-size="49.5" fill="#000" textLength="93.6" lengthAdjust="spacingAndGlyphs" stroke="#000" stroke-width="1.3" stroke-linejoin="round">3850</text>
<text x="3789.24" y="1208" font-family='"Liberation Sans", sans-serif' font-weight="normal" font-size="49.5" fill="#000" textLength="93.6" lengthAdjust="spacingAndGlyphs" stroke="#000" stroke-width="1.3" stroke-linejoin="round">4110</text>
<text x="2812.93" y="1277.7" font-family='"Liberation Sans", sans-serif' font-weight="normal" font-size="49.5" fill="#000" textLength="70.12" lengthAdjust="spacingAndGlyphs" stroke="#000" stroke-width="1.3" stroke-linejoin="round">Увс</text>
<text x="3085.22" y="1277.7" font-family='"Liberation Sans", sans-serif' font-weight="normal" font-size="49.5" fill="#000" textLength="93.6" lengthAdjust="spacingAndGlyphs" stroke="#000" stroke-width="1.3" stroke-linejoin="round">3300</text>
<text x="3356.97" y="1276.7" font-family='"Liberation Sans", sans-serif' font-weight="normal" font-size="49.5" fill="#000" textLength="19.27" lengthAdjust="spacingAndGlyphs" stroke="#000" stroke-width="1.3" stroke-linejoin="round">–</text>
<text x="3553.22" y="1277.7" font-family='"Liberation Sans", sans-serif' font-weight="normal" font-size="49.5" fill="#000" textLength="93.6" lengthAdjust="spacingAndGlyphs" stroke="#000" stroke-width="1.3" stroke-linejoin="round">3900</text>
<text x="3789.24" y="1277.7" font-family='"Liberation Sans", sans-serif' font-weight="normal" font-size="49.5" fill="#000" textLength="93.6" lengthAdjust="spacingAndGlyphs" stroke="#000" stroke-width="1.3" stroke-linejoin="round">4120</text>
<text x="302.57" y="1613.5" font-family='"Liberation Sans", sans-serif' font-weight="normal" font-size="77.18" fill="#000" textLength="182.57" lengthAdjust="spacingAndGlyphs" stroke="#000" stroke-width="1.4" stroke-linejoin="round">АИ-92</text>
<circle cx="392.8" cy="1831" r="151.25" fill="none" stroke="#00AEEF" stroke-width="53.5"/>
<text x="339.53" y="1880.7" font-family='"Liberation Sans", sans-serif' font-weight="normal" font-size="152.87" fill="#00AEEF" textLength="104.29" lengthAdjust="spacingAndGlyphs" stroke="#00AEEF" stroke-width="5.5" stroke-linejoin="round">21</text>
<text x="267.43" y="2128" font-family='"Liberation Sans", sans-serif' font-weight="normal" font-size="86.53" fill="#404040" textLength="317.24" lengthAdjust="spacingAndGlyphs" stroke="#404040" stroke-width="2.2" stroke-linejoin="round">44,409 тн</text>
<text x="878.04" y="1618.4" font-family='"Liberation Sans", sans-serif' font-weight="normal" font-size="73.84" fill="#000" textLength="80.18" lengthAdjust="spacingAndGlyphs" stroke="#000" stroke-width="1.4" stroke-linejoin="round">ДТ</text>
<circle cx="930.3" cy="1839" r="151.25" fill="none" stroke="#808080" stroke-width="53.5"/>
<text x="872.87" y="1889" font-family='"Liberation Sans", sans-serif' font-weight="normal" font-size="156.16" fill="#808080" textLength="136.79" lengthAdjust="spacingAndGlyphs" stroke="#808080" stroke-width="5.5" stroke-linejoin="round">23</text>
<text x="817.72" y="2138.6" font-family='"Liberation Sans", sans-serif' font-weight="normal" font-size="88.25" fill="#404040" textLength="294.58" lengthAdjust="spacingAndGlyphs" stroke="#404040" stroke-width="2.2" stroke-linejoin="round">91,738 тн</text>
<text x="1309.57" y="1608.8" font-family='"Liberation Sans", sans-serif' font-weight="normal" font-size="78.2" fill="#000" textLength="184.16" lengthAdjust="spacingAndGlyphs" stroke="#000" stroke-width="1.4" stroke-linejoin="round">АИ-95</text>
<circle cx="1401.6" cy="1826.5" r="151.25" fill="none" stroke="#00AD4E" stroke-width="53.5"/>
<text x="1340.89" y="1879.8" font-family='"Liberation Sans", sans-serif' font-weight="normal" font-size="152.72" fill="#00AD4E" textLength="137.07" lengthAdjust="spacingAndGlyphs" stroke="#00AD4E" stroke-width="5.5" stroke-linejoin="round">60</text>
<text x="1304.17" y="2129" font-family='"Liberation Sans", sans-serif' font-weight="normal" font-size="89.11" fill="#404040" textLength="258.05" lengthAdjust="spacingAndGlyphs" stroke="#404040" stroke-width="2.2" stroke-linejoin="round">5,381 тн</text>
<text x="1814.24" y="1613.4" font-family='"Liberation Sans", sans-serif' font-weight="normal" font-size="78.34" fill="#000" textLength="124.49" lengthAdjust="spacingAndGlyphs" stroke="#000" stroke-width="1.4" stroke-linejoin="round">ТС-1</text>
<circle cx="1878.7" cy="1831" r="151.25" fill="none" stroke="#FFC000" stroke-width="53.5"/>
<text x="1811.7" y="1875" font-family='"Liberation Sans", sans-serif' font-weight="normal" font-size="151.86" fill="#FFC000" textLength="138.79" lengthAdjust="spacingAndGlyphs" stroke="#FFC000" stroke-width="5.5" stroke-linejoin="round">35</text>
<text x="1782.76" y="2137.6" font-family='"Liberation Sans", sans-serif' font-weight="normal" font-size="85.39" fill="#404040" textLength="269.37" lengthAdjust="spacingAndGlyphs" stroke="#404040" stroke-width="2.2" stroke-linejoin="round">7,309 тн</text>
<text x="2259.59" y="1620.2" font-family='"Liberation Sans", sans-serif' font-weight="normal" font-size="75.87" fill="#000" textLength="149.77" lengthAdjust="spacingAndGlyphs" stroke="#000" stroke-width="1.4" stroke-linejoin="round">ШШХ</text>
<circle cx="2333.4" cy="1839" r="151.25" fill="none" stroke="#ED7D31" stroke-width="53.5"/>
<text x="2279.9" y="1888.3" font-family='"Liberation Sans", sans-serif' font-weight="normal" font-size="158.45" fill="#ED7D31" textLength="127.17" lengthAdjust="spacingAndGlyphs" stroke="#ED7D31" stroke-width="5.5" stroke-linejoin="round">39</text>
<text x="2249.48" y="2133.7" font-family='"Liberation Sans", sans-serif' font-weight="normal" font-size="83.52" fill="#404040" textLength="267.31" lengthAdjust="spacingAndGlyphs" stroke="#404040" stroke-width="2.2" stroke-linejoin="round">4,369 тн</text>
<line x1="930.3" y1="1714.5" x2="930.3" y2="1661" stroke="#FFFFFF" stroke-opacity="0.35" stroke-width="1"/>
<line x1="1009.99" y1="1934.65" x2="1044.24" y2="1975.75" stroke="#FFFFFF" stroke-opacity="0.35" stroke-width="1"/>
<line x1="1878.7" y1="1706.5" x2="1878.7" y2="1653" stroke="#FFFFFF" stroke-opacity="0.35" stroke-width="1"/>
<line x1="1762.63" y1="1876.02" x2="1712.75" y2="1895.37" stroke="#FFFFFF" stroke-opacity="0.35" stroke-width="1"/>
<text x="2757.67" y="1563" font-family='"Liberation Sans", sans-serif' font-weight="normal" font-size="42.3" fill="#000" textLength="103.04" lengthAdjust="spacingAndGlyphs" stroke="#000" stroke-width="1.5" stroke-linejoin="round">120000</text>
<text x="2774.84" y="1637" font-family='"Liberation Sans", sans-serif' font-weight="normal" font-size="42.3" fill="#000" textLength="85.87" lengthAdjust="spacingAndGlyphs" stroke="#000" stroke-width="1.5" stroke-linejoin="round">90000</text>
<text x="2774.84" y="1712.3" font-family='"Liberation Sans", sans-serif' font-weight="normal" font-size="42.3" fill="#000" textLength="85.87" lengthAdjust="spacingAndGlyphs" stroke="#000" stroke-width="1.5" stroke-linejoin="round">60000</text>
<text x="2774.84" y="1786.3" font-family='"Liberation Sans", sans-serif' font-weight="normal" font-size="42.3" fill="#000" textLength="85.87" lengthAdjust="spacingAndGlyphs" stroke="#000" stroke-width="1.5" stroke-linejoin="round">30000</text>
<text x="2843.53" y="1860.3" font-family='"Liberation Sans", sans-serif' font-weight="normal" font-size="42.3" fill="#000" textLength="17.17" lengthAdjust="spacingAndGlyphs" stroke="#000" stroke-width="1.5" stroke-linejoin="round">0</text>
<line x1="2894.5" y1="1847.2" x2="3883" y2="1847.2" stroke="#D9D9D9" stroke-width="2.6"/>
<path d="M2913.5 1578.4 C2919.84 1579.77 2938.87 1584.25 2951.55 1586.6 C2964.23 1588.95 2976.92 1584.55 2989.6 1592.5 C3002.28 1600.45 3014.97 1619.47 3027.65 1634.3 C3040.33 1649.13 3053.02 1673.55 3065.7 1681.5 C3078.38 1689.45 3091.07 1679.32 3103.75 1682 C3116.43 1684.68 3129.12 1691.15 3141.8 1697.6 C3154.48 1704.05 3167.17 1715.3 3179.85 1720.7 C3192.53 1726.1 3205.22 1728.55 3217.9 1730 C3230.58 1731.45 3243.27 1730.07 3255.95 1729.4 C3268.63 1728.73 3281.32 1723.93 3294 1726 C3306.68 1728.07 3319.37 1743.22 3332.05 1741.8 C3344.73 1740.38 3357.42 1719.37 3370.1 1717.5 C3382.78 1715.63 3395.47 1729.9 3408.15 1730.6 C3420.83 1731.3 3433.52 1721.95 3446.2 1721.7 C3458.88 1721.45 3471.57 1730.35 3484.25 1729.1 C3496.93 1727.85 3509.62 1717.38 3522.3 1714.2 C3534.98 1711.02 3547.67 1710.17 3560.35 1710 C3573.03 1709.83 3585.72 1715.88 3598.4 1713.2 C3611.08 1710.52 3623.77 1701.27 3636.45 1693.9 C3649.13 1686.53 3661.82 1676.25 3674.5 1669 C3687.18 1661.75 3699.87 1658.07 3712.55 1650.4 C3725.23 1642.73 3737.92 1631.4 3750.6 1623 C3763.28 1614.6 3775.97 1600.68 3788.65 1600 C3801.33 1599.32 3820.36 1615.75 3826.7 1618.9" fill="none" stroke="#ED7D31" stroke-width="8.8" stroke-linecap="round" stroke-linejoin="round"/>
<path d="M2913.5 1763.4 C2919.84 1764.43 2938.87 1766.9 2951.55 1769.6 C2964.23 1772.3 2976.92 1778.15 2989.6 1779.6 C3002.28 1781.05 3014.97 1775.62 3027.65 1778.3 C3040.33 1780.98 3053.02 1792.92 3065.7 1795.7 C3078.38 1798.48 3091.07 1794.67 3103.75 1795 C3116.43 1795.33 3129.12 1797.25 3141.8 1797.7 C3154.48 1798.15 3167.17 1798.87 3179.85 1797.7 C3192.53 1796.53 3205.22 1791.45 3217.9 1790.7 C3230.58 1789.95 3243.27 1793.68 3255.95 1793.2 C3268.63 1792.72 3281.32 1788.22 3294 1787.8 C3306.68 1787.38 3319.37 1791.67 3332.05 1790.7 C3344.73 1789.73 3357.42 1781.78 3370.1 1782 C3382.78 1782.22 3395.47 1789.58 3408.15 1792 C3420.83 1794.42 3433.52 1795.27 3446.2 1796.5 C3458.88 1797.73 3471.57 1798.17 3484.25 1799.4 C3496.93 1800.63 3509.62 1801.82 3522.3 1803.9 C3534.98 1805.98 3547.67 1811.62 3560.35 1811.9 C3573.03 1812.18 3585.72 1808.92 3598.4 1805.6 C3611.08 1802.28 3623.77 1796.55 3636.45 1792 C3649.13 1787.45 3661.82 1780.8 3674.5 1778.3 C3687.18 1775.8 3699.87 1778.23 3712.55 1777 C3725.23 1775.77 3737.92 1776.68 3750.6 1770.9 C3763.28 1765.12 3775.97 1748.02 3788.65 1742.3 C3801.33 1736.58 3820.36 1737.55 3826.7 1736.6" fill="none" stroke="#5B9BD5" stroke-width="8.8" stroke-linecap="round" stroke-linejoin="round"/>
<text transform="translate(2925.3 1909.7) rotate(-45)" x="-148.51" y="0" font-family='"Liberation Sans", sans-serif' font-size="42.98" textLength="150.01" lengthAdjust="spacingAndGlyphs" stroke="#000" stroke-width="2.2" stroke-linejoin="round">2025.10.07</text>
<text transform="translate(3001.4 1909.7) rotate(-45)" x="-148.5" y="0" font-family='"Liberation Sans", sans-serif' font-size="42.98" textLength="149.38" lengthAdjust="spacingAndGlyphs" stroke="#000" stroke-width="2.2" stroke-linejoin="round">2025.10.14</text>
<text transform="translate(3077.5 1909.7) rotate(-45)" x="-148.5" y="0" font-family='"Liberation Sans", sans-serif' font-size="42.98" textLength="149.38" lengthAdjust="spacingAndGlyphs" stroke="#000" stroke-width="2.2" stroke-linejoin="round">2025.11.04</text>
<text transform="translate(3153.6 1909.7) rotate(-45)" x="-148.5" y="0" font-family='"Liberation Sans", sans-serif' font-size="42.98" textLength="149.67" lengthAdjust="spacingAndGlyphs" stroke="#000" stroke-width="2.2" stroke-linejoin="round">2025.11.10</text>
<text transform="translate(3229.7 1909.7) rotate(-45)" x="-148.51" y="0" font-family='"Liberation Sans", sans-serif' font-size="42.98" textLength="149.81" lengthAdjust="spacingAndGlyphs" stroke="#000" stroke-width="2.2" stroke-linejoin="round">2025.11.18</text>
<text transform="translate(3305.8 1909.7) rotate(-45)" x="-148.5" y="0" font-family='"Liberation Sans", sans-serif' font-size="42.98" textLength="149.76" lengthAdjust="spacingAndGlyphs" stroke="#000" stroke-width="2.2" stroke-linejoin="round">2025.11.25</text>
<text transform="translate(3381.9 1909.7) rotate(-45)" x="-148.51" y="0" font-family='"Liberation Sans", sans-serif' font-size="42.98" textLength="149.97" lengthAdjust="spacingAndGlyphs" stroke="#000" stroke-width="2.2" stroke-linejoin="round">2025.12.01</text>
<text transform="translate(3458 1909.7) rotate(-45)" x="-148.51" y="0" font-family='"Liberation Sans", sans-serif' font-size="42.98" textLength="149.93" lengthAdjust="spacingAndGlyphs" stroke="#000" stroke-width="2.2" stroke-linejoin="round">2025.12.09</text>
<text transform="translate(3534.1 1909.7) rotate(-45)" x="-148.51" y="0" font-family='"Liberation Sans", sans-serif' font-size="42.98" textLength="149.82" lengthAdjust="spacingAndGlyphs" stroke="#000" stroke-width="2.2" stroke-linejoin="round">2025.12.16</text>
<text transform="translate(3610.2 1909.7) rotate(-45)" x="-148.51" y="0" font-family='"Liberation Sans", sans-serif' font-size="42.98" textLength="149.82" lengthAdjust="spacingAndGlyphs" stroke="#000" stroke-width="2.2" stroke-linejoin="round">2025.12.23</text>
<text transform="translate(3686.3 1909.7) rotate(-45)" x="-148.5" y="0" font-family='"Liberation Sans", sans-serif' font-size="42.98" textLength="149.67" lengthAdjust="spacingAndGlyphs" stroke="#000" stroke-width="2.2" stroke-linejoin="round">2025.12.30</text>
<text transform="translate(3762.4 1909.7) rotate(-45)" x="-148.51" y="0" font-family='"Liberation Sans", sans-serif' font-size="42.98" textLength="149.82" lengthAdjust="spacingAndGlyphs" stroke="#000" stroke-width="2.2" stroke-linejoin="round">2026.01.06</text>
<text transform="translate(3838.5 1909.7) rotate(-45)" x="-148.51" y="0" font-family='"Liberation Sans", sans-serif' font-size="42.98" textLength="149.82" lengthAdjust="spacingAndGlyphs" stroke="#000" stroke-width="2.2" stroke-linejoin="round">2026.01.16</text>
<line x1="3137" y1="2081.3" x2="3216" y2="2081.3" stroke="#ED7D31" stroke-width="8.7" stroke-linecap="round"/>
<line x1="3308" y1="2081.3" x2="3387" y2="2081.3" stroke="#5B9BD5" stroke-width="8.7" stroke-linecap="round"/>
<text x="3228.16" y="2096.5" font-family='"Liberation Sans", sans-serif' font-weight="normal" font-size="45.78" fill="#000" textLength="42.4" lengthAdjust="spacingAndGlyphs" stroke="#000" stroke-width="1.2" stroke-linejoin="round">ДТ</text>
<text x="3400.14" y="2096.5" font-family='"Liberation Sans", sans-serif' font-weight="normal" font-size="45.78" fill="#000" textLength="93.93" lengthAdjust="spacingAndGlyphs" stroke="#000" stroke-width="1.2" stroke-linejoin="round">АИ-92</text>
</svg>
</body></html>
